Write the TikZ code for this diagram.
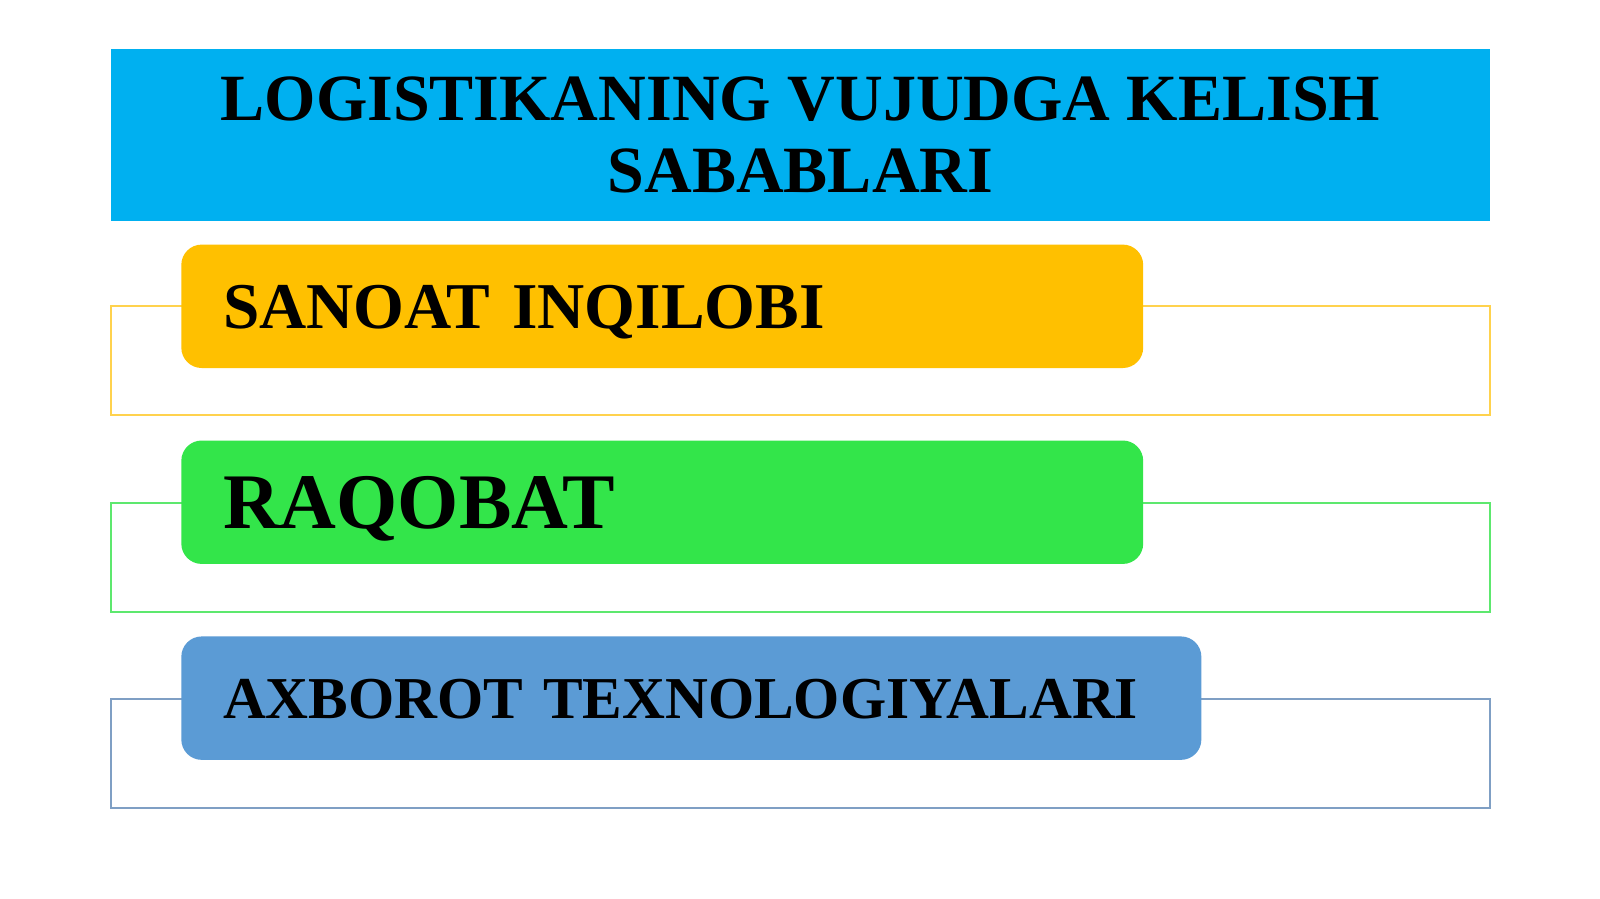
\documentclass[tikz,border=0pt]{standalone}
\usepackage{fontspec}
\setmainfont{Liberation Serif}
\begin{document}
\begin{tikzpicture}[x=0.010204cm,y=-0.010204cm,
  frame/.style={draw=#1,line width=0.02cm,fill=none,minimum height=1.092cm,minimum width=13.796cm,anchor=north west,inner sep=0pt},
  bar/.style={fill=#1,draw=none,rounded corners=0.204cm,minimum height=1.2347cm,anchor=north west,inner xsep=0.418cm,inner ysep=0pt,align=left,text depth=0pt},
]
\useasboundingbox (0,0) rectangle (1568,881);
\fill[white] (0,0) rectangle (1568,881);
\definecolor{titleblue}{HTML}{00B0F0}
\definecolor{orangebar}{HTML}{FFC000}
\definecolor{greenbar}{HTML}{33E54A}
\definecolor{bluebar}{HTML}{5B9BD5}
\definecolor{orangeframe}{HTML}{FFD24D}
\definecolor{greenframe}{HTML}{5DE86E}
\definecolor{blueframe}{HTML}{7F9FC4}
\node[fill=titleblue,minimum width=13.796cm,minimum height=1.7245cm,anchor=north west,inner sep=0pt,align=center,
  font=\fontsize{18.8}{20.3}\selectfont\bfseries] (title) at (108,47) {LOGISTIKANING VUJUDGA KELISH\\SABABLARI};
\node[frame=orangeframe] (f1) at (108,299) {};
\node[frame=greenframe] (f2) at (108,492) {};
\node[frame=blueframe] (f3) at (108,684) {};
\node[bar=orangebar,minimum width=9.622cm,text width=8.786cm,text height=12.46pt,font=\fontsize{18.6}{20}\selectfont\bfseries] (b1) at (177,239) {SANOAT INQILOBI};
\node[bar=greenbar,minimum width=9.622cm,text width=8.786cm,text height=15.0pt,font=\fontsize{22.4}{24}\selectfont\bfseries] (b2) at (177,431) {RAQOBAT};
\node[bar=bluebar,minimum width=10.204cm,text width=9.368cm,text height=11.3pt,font=\fontsize{16.9}{18}\selectfont\bfseries] (b3) at (177,623) {AXBOROT TEXNOLOGIYALARI};
\end{tikzpicture}
\end{document}
